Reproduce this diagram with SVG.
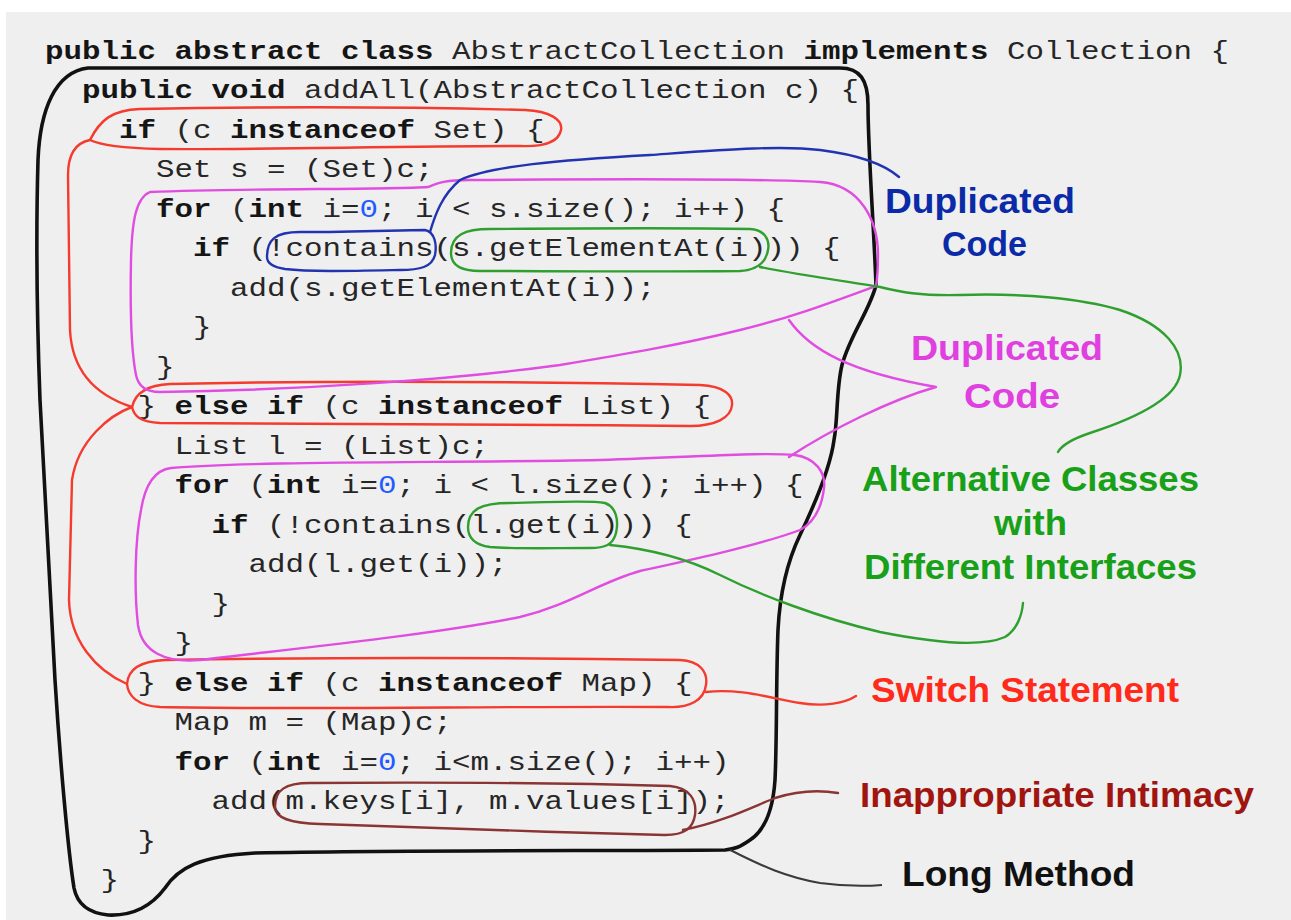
<svg xmlns="http://www.w3.org/2000/svg" width="1291" height="920" viewBox="0 0 1291 920">
  <style>
    .code { font-family: "Liberation Mono", "Courier New", monospace; font-size: 26px; fill: #262626; white-space: pre; }
    .kw { font-weight: bold; fill: #151515; }
    .num { fill: #1f5cff; }
    .lbl { font-family: "Liberation Sans", Arial, sans-serif; font-size: 35px; font-weight: bold; }
    .loop { fill: none; stroke-width: 2.4; stroke-linecap: round; stroke-linejoin: round; }
    .red { stroke: #f53a2e; }
    .mag { stroke: #e04de0; }
    .grn { stroke: #2f9f2f; }
    .blu { stroke: #2233b0; }
    .brn { stroke: #8a3434; }
  </style>

  <!-- page background -->
  <rect x="0" y="0" width="1291" height="920" fill="#ffffff"/>
  <rect x="6" y="12" width="1285" height="908" fill="#efefef"/>

  <!-- source code listing (monospace widened to an 18.5px cell) -->
  <g id="code" transform="scale(1.186,1)">
    <text class="code" x="37.94" y="59"><tspan class="kw">public abstract class</tspan> AbstractCollection <tspan class="kw">implements</tspan> Collection {</text>
    <text class="code" x="69.14" y="98.5"><tspan class="kw">public void</tspan> addAll(AbstractCollection c) {</text>
    <text class="code" x="100.34" y="138"><tspan class="kw">if</tspan> (c <tspan class="kw">instanceof</tspan> Set) {</text>
    <text class="code" x="131.54" y="177.5">Set s = (Set)c;</text>
    <text class="code" x="131.54" y="217"><tspan class="kw">for</tspan> (<tspan class="kw">int</tspan> i=<tspan class="num">0</tspan>; i &lt; s.size(); i++) {</text>
    <text class="code" x="162.74" y="256.5"><tspan class="kw">if</tspan> (!contains(s.getElementAt(i))) {</text>
    <text class="code" x="193.94" y="296">add(s.getElementAt(i));</text>
    <text class="code" x="162.74" y="335.5">}</text>
    <text class="code" x="131.54" y="375">}</text>
    <text class="code" x="115.94" y="414.5">} <tspan class="kw">else if</tspan> (c <tspan class="kw">instanceof</tspan> List) {</text>
    <text class="code" x="147.14" y="454">List l = (List)c;</text>
    <text class="code" x="147.14" y="493.5"><tspan class="kw">for</tspan> (<tspan class="kw">int</tspan> i=<tspan class="num">0</tspan>; i &lt; l.size(); i++) {</text>
    <text class="code" x="178.34" y="533"><tspan class="kw">if</tspan> (!contains(l.get(i))) {</text>
    <text class="code" x="209.54" y="572.5">add(l.get(i));</text>
    <text class="code" x="178.34" y="612">}</text>
    <text class="code" x="147.14" y="651.5">}</text>
    <text class="code" x="115.94" y="691">} <tspan class="kw">else if</tspan> (c <tspan class="kw">instanceof</tspan> Map) {</text>
    <text class="code" x="147.14" y="730.5">Map m = (Map)c;</text>
    <text class="code" x="147.14" y="770"><tspan class="kw">for</tspan> (<tspan class="kw">int</tspan> i=<tspan class="num">0</tspan>; i&lt;m.size(); i++)</text>
    <text class="code" x="178.34" y="809.5">add(m.keys[i], m.values[i]);</text>
    <text class="code" x="115.94" y="849">}</text>
    <text class="code" x="84.74" y="888.5">}</text>
  </g>

  <!-- method body outline -->
  <g id="long-method">
    <path fill="none" stroke="#111" stroke-width="3.6" stroke-linejoin="round"
      d="M 88,68 C 300,66 600,69 840,68 C 860,68 868,80 868,105 C 868,150 874,230 876,285 C 870,310 850,335 842,365 C 836,390 838,420 834,440 C 830,470 812,510 800,535 C 788,560 780,590 778,630 C 776,680 777,740 775,780 C 773,810 765,830 750,840 C 740,847 735,849 725,850 C 600,851 400,850 255,853 C 200,856 178,868 165,888 C 150,908 130,916 108,915 C 88,913 77,903 74,888 C 68,850 60,760 55,680 C 50,580 44,480 40,400 C 37,320 36,230 38,160 C 40,110 55,72 88,68 Z"/>
    <text class="lbl" x="902" y="886" fill="#111" textLength="233" lengthAdjust="spacingAndGlyphs">Long Method</text>
  </g>

  <!-- type-check chain -->
  <g id="switch-statement">
    <path class="loop red" d="M 90,140 C 100,120 112,110 140,109 C 300,106 450,108 525,110 C 550,111 563,120 561,130 C 559,141 545,147 520,146 C 400,146 250,150 160,149 C 120,148 100,145 90,140 Z"/>
    <path class="loop red" d="M 132,407 C 135,394 146,385 170,384 C 350,380 550,382 700,385 C 725,386 733,396 732,405 C 731,418 715,426 690,426 C 500,424 300,425 160,423 C 140,422 134,416 132,407 Z"/>
    <path class="loop red" d="M 127,684 C 128,670 140,661 165,660 C 350,657 550,658 680,660 C 700,661 708,672 706,685 C 704,700 690,708 668,707 C 500,706 300,710 160,707 C 138,706 128,696 127,684 Z"/>
    <path class="loop red" d="M 90,140 C 75,143 68,155 68,175 L 70,330 C 72,370 95,395 132,407"/>
    <path class="loop red" d="M 132,407 C 110,415 78,440 72,480 L 69,600 C 70,640 95,670 127,684"/>
    <text class="lbl" x="871" y="702" fill="#ff2a1a" textLength="308" lengthAdjust="spacingAndGlyphs">Switch Statement</text>
  </g>

  <!-- repeated loops -->
  <g id="duplicated-loops">
    <path class="loop mag" d="M 150,192 C 250,188 380,190 428,187 C 438,183 445,180 470,180 C 600,179 750,178 820,182 C 860,185 878,220 878,255 C 878,270 877,280 876,286 C 830,303 790,318 740,330 C 680,345 620,355 560,365 C 450,380 300,390 160,392 C 145,392 138,385 136,375 C 131,350 130,310 131,260 C 132,220 136,198 150,192 Z"/>
    <path class="loop mag" d="M 171,468 C 250,461 450,463 600,460 C 700,457 760,452 795,455 C 815,458 826,472 824,488 C 822,505 815,522 800,530 C 760,545 690,560 640,571 C 600,582 570,605 520,617 C 430,635 300,648 200,660 C 165,663 142,652 138,625 C 134,590 135,540 141,510 C 145,485 155,470 171,468 Z"/>
    <path class="loop mag" d="M 789,320 C 810,350 850,372 936,387 C 890,400 830,430 789,457"/>
    <text class="lbl" x="911" y="360" fill="#e040e0" textLength="192" lengthAdjust="spacingAndGlyphs">Duplicated</text>
    <text class="lbl" x="964" y="408" fill="#e040e0" textLength="96" lengthAdjust="spacingAndGlyphs">Code</text>
  </g>

  <!-- repeated call -->
  <g id="duplicated-call">
    <path class="loop blu" d="M 267,257 C 267,240 275,232 300,232 C 360,232 400,230 425,230 C 435,232 437,245 435,255 C 432,267 420,270 400,270 C 350,271 310,272 285,269 C 272,267 267,263 267,257 Z"/>
    <path class="loop blu" d="M 430,232 C 435,215 442,195 460,180 C 490,166 560,160 650,155 C 720,150 780,145 820,150 C 860,155 885,165 899,177"/>
    <text class="lbl" x="885" y="213" fill="#0a2aa8" textLength="190" lengthAdjust="spacingAndGlyphs">Duplicated</text>
    <text class="lbl" x="942" y="256" fill="#0a2aa8" textLength="85" lengthAdjust="spacingAndGlyphs">Code</text>
  </g>

  <!-- element accessors -->
  <g id="alternative-classes">
    <path class="loop grn" d="M 451,253 C 451,235 465,229 490,229 C 600,228 700,228 750,229 C 765,230 770,240 768,250 C 766,262 758,270 740,271 C 640,272 540,271 480,271 C 460,271 451,265 451,253 Z"/>
    <path class="loop grn" d="M 468,527 C 468,510 480,503 510,503 C 560,502 590,500 605,503 C 616,507 619,520 616,533 C 613,545 605,548 590,548 C 550,548 510,549 490,547 C 475,545 468,538 468,527 Z"/>
    <path class="loop grn" d="M 760,267 C 800,275 850,282 880,287 C 900,292 920,296 960,295 C 1020,293 1080,298 1120,310 C 1165,325 1185,350 1180,375 C 1175,400 1130,420 1090,433 C 1075,438 1062,445 1058,452"/>
    <path class="loop grn" d="M 610,545 C 640,548 680,555 720,575 C 760,595 820,618 880,632 C 930,642 980,648 1005,637 C 1017,630 1022,615 1023,603"/>
    <text class="lbl" x="862" y="491" fill="#18a018" textLength="337" lengthAdjust="spacingAndGlyphs">Alternative Classes</text>
    <text class="lbl" x="994" y="535" fill="#18a018" textLength="73" lengthAdjust="spacingAndGlyphs">with</text>
    <text class="lbl" x="864" y="579" fill="#18a018" textLength="333" lengthAdjust="spacingAndGlyphs">Different Interfaces</text>
  </g>

  <!-- map internals -->
  <g id="inappropriate-intimacy">
    <path class="loop brn" d="M 275,807 C 275,790 285,783 310,783 C 450,782 600,784 670,786 C 690,788 697,800 695,815 C 693,828 685,835 665,835 C 550,832 420,828 320,824 C 290,823 275,818 275,807 Z"/>
    <path class="loop brn" d="M 683,830 C 720,823 750,808 775,798 C 800,790 820,790 838,793"/>
    <text class="lbl" x="860" y="807" fill="#a01510" textLength="394" lengthAdjust="spacingAndGlyphs">Inappropriate Intimacy</text>
  </g>

  <!-- outline to label -->
  <g id="connectors">
    <path class="loop red" d="M 706,692 C 740,688 770,698 800,703 C 825,707 845,703 856,696"/>
    <path fill="none" stroke="#3a3a3a" stroke-width="2" d="M 730,850 C 755,862 780,876 820,883 C 850,887 870,886 882,885"/>
  </g>
</svg>
